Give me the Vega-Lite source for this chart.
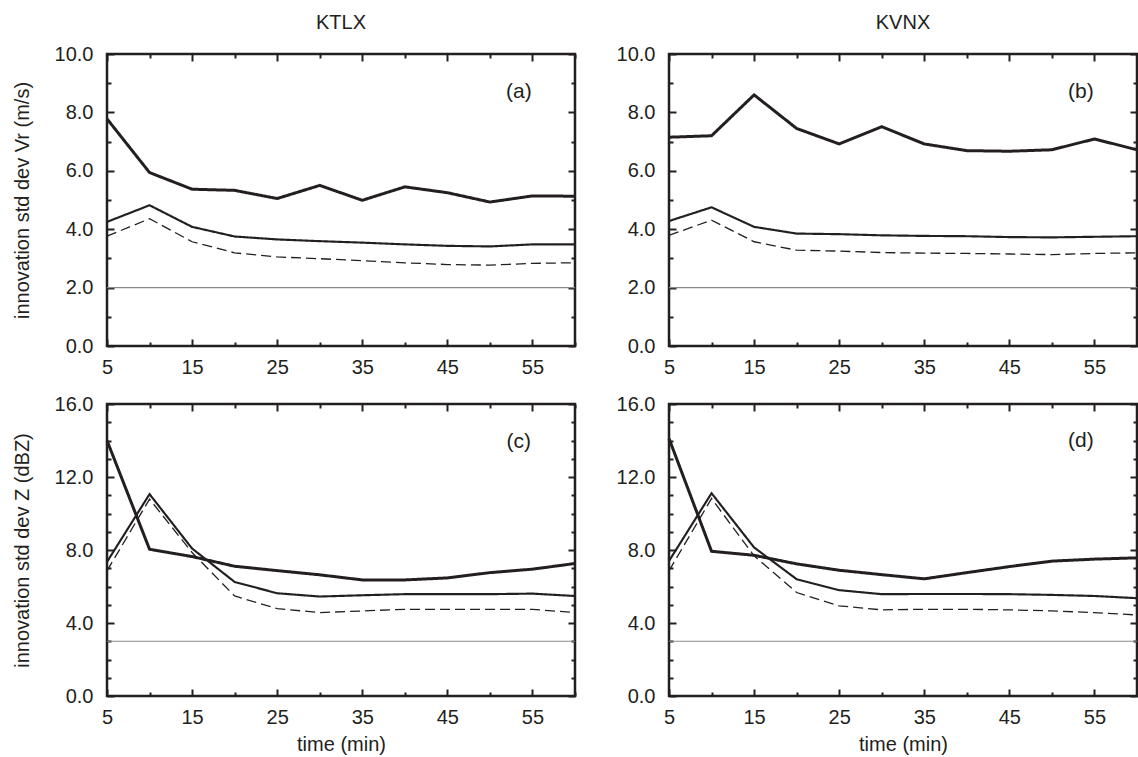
{
  "$schema": "https://vega.github.io/schema/vega-lite/v6.json",
  "padding": {"left": 10, "top": 11, "right": 0, "bottom": 2},
  "background": "white",
  "config": {
    "font": "Liberation Sans",
    "view": {"stroke": "#231f20", "strokeWidth": 2.5},
    "axis": {"labelFontSize": 20, "titleFontSize": 20, "labelColor": "#231f20", "titleColor": "#231f20", "titleFontWeight": "normal", "tickColor": "#231f20", "tickWidth": 2, "domain": false, "grid": false, "labelFlush": false, "labelFont": "Liberation Sans", "titleFont": "Liberation Sans"},
    "title": {"fontSize": 20, "fontWeight": "normal", "color": "#231f20", "font": "Liberation Sans", "offset": 11},
    "line": {"color": "#231f20"},
    "text": {"color": "#231f20", "font": "Liberation Sans", "fontSize": 21}
  },
  "datasets": {
    "vr": [
      {"radar": "KTLX", "t": 5, "innovation": 7.78, "expected": 4.25, "spread": 3.76},
      {"radar": "KTLX", "t": 10, "innovation": 5.94, "expected": 4.82, "spread": 4.36},
      {"radar": "KTLX", "t": 15, "innovation": 5.37, "expected": 4.08, "spread": 3.57},
      {"radar": "KTLX", "t": 20, "innovation": 5.33, "expected": 3.75, "spread": 3.19},
      {"radar": "KTLX", "t": 25, "innovation": 5.05, "expected": 3.65, "spread": 3.05},
      {"radar": "KTLX", "t": 30, "innovation": 5.50, "expected": 3.59, "spread": 2.99},
      {"radar": "KTLX", "t": 35, "innovation": 4.99, "expected": 3.54, "spread": 2.92},
      {"radar": "KTLX", "t": 40, "innovation": 5.45, "expected": 3.48, "spread": 2.85},
      {"radar": "KTLX", "t": 45, "innovation": 5.25, "expected": 3.43, "spread": 2.79},
      {"radar": "KTLX", "t": 50, "innovation": 4.93, "expected": 3.41, "spread": 2.77},
      {"radar": "KTLX", "t": 55, "innovation": 5.14, "expected": 3.48, "spread": 2.83},
      {"radar": "KTLX", "t": 60, "innovation": 5.13, "expected": 3.48, "spread": 2.85},
      {"radar": "KVNX", "t": 5, "innovation": 7.15, "expected": 4.28, "spread": 3.79},
      {"radar": "KVNX", "t": 10, "innovation": 7.20, "expected": 4.75, "spread": 4.31},
      {"radar": "KVNX", "t": 15, "innovation": 8.60, "expected": 4.08, "spread": 3.57},
      {"radar": "KVNX", "t": 20, "innovation": 7.45, "expected": 3.85, "spread": 3.28},
      {"radar": "KVNX", "t": 25, "innovation": 6.92, "expected": 3.83, "spread": 3.25},
      {"radar": "KVNX", "t": 30, "innovation": 7.51, "expected": 3.79, "spread": 3.20},
      {"radar": "KVNX", "t": 35, "innovation": 6.92, "expected": 3.77, "spread": 3.18},
      {"radar": "KVNX", "t": 40, "innovation": 6.69, "expected": 3.76, "spread": 3.17},
      {"radar": "KVNX", "t": 45, "innovation": 6.67, "expected": 3.73, "spread": 3.15},
      {"radar": "KVNX", "t": 50, "innovation": 6.72, "expected": 3.72, "spread": 3.13},
      {"radar": "KVNX", "t": 55, "innovation": 7.09, "expected": 3.74, "spread": 3.17},
      {"radar": "KVNX", "t": 60, "innovation": 6.72, "expected": 3.76, "spread": 3.19}
    ],
    "z": [
      {"radar": "KTLX", "t": 5, "innovation": 14.0, "expected": 7.35, "spread": 6.86},
      {"radar": "KTLX", "t": 10, "innovation": 8.04, "expected": 11.06, "spread": 10.79},
      {"radar": "KTLX", "t": 15, "innovation": 7.64, "expected": 8.08, "spread": 7.86},
      {"radar": "KTLX", "t": 20, "innovation": 7.11, "expected": 6.25, "spread": 5.48},
      {"radar": "KTLX", "t": 25, "innovation": 6.87, "expected": 5.63, "spread": 4.79},
      {"radar": "KTLX", "t": 30, "innovation": 6.64, "expected": 5.45, "spread": 4.57},
      {"radar": "KTLX", "t": 35, "innovation": 6.36, "expected": 5.52, "spread": 4.66},
      {"radar": "KTLX", "t": 40, "innovation": 6.36, "expected": 5.58, "spread": 4.75},
      {"radar": "KTLX", "t": 45, "innovation": 6.47, "expected": 5.58, "spread": 4.75},
      {"radar": "KTLX", "t": 50, "innovation": 6.76, "expected": 5.58, "spread": 4.75},
      {"radar": "KTLX", "t": 55, "innovation": 6.95, "expected": 5.61, "spread": 4.75},
      {"radar": "KTLX", "t": 60, "innovation": 7.26, "expected": 5.48, "spread": 4.57},
      {"radar": "KVNX", "t": 5, "innovation": 14.11, "expected": 7.40, "spread": 6.86},
      {"radar": "KVNX", "t": 10, "innovation": 7.93, "expected": 11.11, "spread": 10.82},
      {"radar": "KVNX", "t": 15, "innovation": 7.71, "expected": 8.14, "spread": 7.68},
      {"radar": "KVNX", "t": 20, "innovation": 7.24, "expected": 6.40, "spread": 5.67},
      {"radar": "KVNX", "t": 25, "innovation": 6.89, "expected": 5.80, "spread": 4.94},
      {"radar": "KVNX", "t": 30, "innovation": 6.65, "expected": 5.58, "spread": 4.72},
      {"radar": "KVNX", "t": 35, "innovation": 6.42, "expected": 5.59, "spread": 4.75},
      {"radar": "KVNX", "t": 40, "innovation": 6.76, "expected": 5.59, "spread": 4.75},
      {"radar": "KVNX", "t": 45, "innovation": 7.09, "expected": 5.58, "spread": 4.72},
      {"radar": "KVNX", "t": 50, "innovation": 7.39, "expected": 5.54, "spread": 4.66},
      {"radar": "KVNX", "t": 55, "innovation": 7.50, "expected": 5.48, "spread": 4.57},
      {"radar": "KVNX", "t": 60, "innovation": 7.57, "expected": 5.36, "spread": 4.44}
    ]
  },
  "vconcat": [
    {
      "hconcat": [
        {
          "width": 468, "height": 292,
          "title": {"text": "KTLX"},
          "layer": [
            {
              "data": {"name": "vr"},
              "transform": [{"filter": "datum.radar === 'KTLX'"}, {"fold": ["innovation", "expected", "spread"], "as": ["series", "value"]}],
              "mark": {"type": "line", "strokeJoin": "miter"},
              "encoding": {
                "x": {"field": "t", "type": "quantitative", "scale": {"domain": [5, 60], "nice": false},
                  "axis": {"orient": "bottom", "title": null, "values": [5, 10, 15, 20, 25, 30, 35, 40, 45, 50, 55, 60], "labelExpr": "datum.value % 10 === 5 ? datum.label : ''", "tickSize": {"condition": {"test": "datum.value % 10 === 5", "value": -7}, "value": -4}, "labelPadding": 18}},
                "y": {"field": "value", "type": "quantitative", "scale": {"domain": [0, 10], "nice": false},
                  "axis": {"orient": "left", "title": "innovation std dev Vr (m/s)", "values": [0, 1, 2, 3, 4, 5, 6, 7, 8, 9, 10], "labelExpr": "datum.value % 2 === 0 ? format(datum.value, '.1f') : ''", "tickSize": {"condition": {"test": "datum.value % 2 === 0", "value": -7}, "value": -4}, "labelPadding": 21, "titlePadding": 22}},
                "strokeWidth": {"field": "series", "type": "nominal", "scale": {"domain": ["innovation", "expected", "spread"], "range": [3, 1.3, 1.3]}, "legend": null},
                "strokeDash": {"field": "series", "type": "nominal", "scale": {"domain": ["innovation", "expected", "spread"], "range": [[1, 0], [1, 0], [10, 5]]}, "legend": null}
              }
            },
            {
              "data": {"values": [{"obs_error": 2}]},
              "mark": {"type": "rule", "color": "#8a8a8a", "strokeWidth": 1.2},
              "encoding": {"y": {"field": "obs_error", "type": "quantitative", "scale": {"domain": [0, 10], "nice": false}, "axis": null}}
            },
            {
              "data": {"values": [{"label": "(a)"}]},
              "mark": {"type": "text"},
              "encoding": {
                "text": {"field": "label"},
                "x": {"datum": 53.4, "type": "quantitative", "scale": {"domain": [5, 60], "nice": false},
                  "axis": {"orient": "top", "title": null, "labels": false, "values": [5, 10, 15, 20, 25, 30, 35, 40, 45, 50, 55, 60], "tickSize": {"condition": {"test": "datum.value % 10 === 5", "value": -7}, "value": -4}}},
                "y": {"datum": 8.7, "type": "quantitative", "scale": {"domain": [0, 10], "nice": false},
                  "axis": {"orient": "right", "title": null, "labels": false, "values": [0, 1, 2, 3, 4, 5, 6, 7, 8, 9, 10], "tickSize": {"condition": {"test": "datum.value % 2 === 0", "value": -7}, "value": -4}}}
              }
            }
          ],
          "resolve": {"axis": {"x": "independent", "y": "independent"}}
        },
        {
          "width": 468, "height": 292,
          "title": {"text": "KVNX"},
          "layer": [
            {
              "data": {"name": "vr"},
              "transform": [{"filter": "datum.radar === 'KVNX'"}, {"fold": ["innovation", "expected", "spread"], "as": ["series", "value"]}],
              "mark": {"type": "line", "strokeJoin": "miter"},
              "encoding": {
                "x": {"field": "t", "type": "quantitative", "scale": {"domain": [5, 60], "nice": false},
                  "axis": {"orient": "bottom", "title": null, "values": [5, 10, 15, 20, 25, 30, 35, 40, 45, 50, 55, 60], "labelExpr": "datum.value % 10 === 5 ? datum.label : ''", "tickSize": {"condition": {"test": "datum.value % 10 === 5", "value": -7}, "value": -4}, "labelPadding": 18}},
                "y": {"field": "value", "type": "quantitative", "scale": {"domain": [0, 10], "nice": false},
                  "axis": {"orient": "left", "title": null, "values": [0, 1, 2, 3, 4, 5, 6, 7, 8, 9, 10], "labelExpr": "datum.value % 2 === 0 ? format(datum.value, '.1f') : ''", "tickSize": {"condition": {"test": "datum.value % 2 === 0", "value": -7}, "value": -4}, "labelPadding": 21}},
                "strokeWidth": {"field": "series", "type": "nominal", "scale": {"domain": ["innovation", "expected", "spread"], "range": [3, 1.3, 1.3]}, "legend": null},
                "strokeDash": {"field": "series", "type": "nominal", "scale": {"domain": ["innovation", "expected", "spread"], "range": [[1, 0], [1, 0], [10, 5]]}, "legend": null}
              }
            },
            {
              "data": {"values": [{"obs_error": 2}]},
              "mark": {"type": "rule", "color": "#8a8a8a", "strokeWidth": 1.2},
              "encoding": {"y": {"field": "obs_error", "type": "quantitative", "scale": {"domain": [0, 10], "nice": false}, "axis": null}}
            },
            {
              "data": {"values": [{"label": "(b)"}]},
              "mark": {"type": "text"},
              "encoding": {
                "text": {"field": "label"},
                "x": {"datum": 53.4, "type": "quantitative", "scale": {"domain": [5, 60], "nice": false},
                  "axis": {"orient": "top", "title": null, "labels": false, "values": [5, 10, 15, 20, 25, 30, 35, 40, 45, 50, 55, 60], "tickSize": {"condition": {"test": "datum.value % 10 === 5", "value": -7}, "value": -4}}},
                "y": {"datum": 8.7, "type": "quantitative", "scale": {"domain": [0, 10], "nice": false},
                  "axis": {"orient": "right", "title": null, "labels": false, "values": [0, 1, 2, 3, 4, 5, 6, 7, 8, 9, 10], "tickSize": {"condition": {"test": "datum.value % 2 === 0", "value": -7}, "value": -4}}}
              }
            }
          ],
          "resolve": {"axis": {"x": "independent", "y": "independent"}}
        }
      ],
      "spacing": 31
    },
    {
      "hconcat": [
        {
          "width": 468, "height": 292,
          "layer": [
            {
              "data": {"name": "z"},
              "transform": [{"filter": "datum.radar === 'KTLX'"}, {"fold": ["innovation", "expected", "spread"], "as": ["series", "value"]}],
              "mark": {"type": "line", "strokeJoin": "miter"},
              "encoding": {
                "x": {"field": "t", "type": "quantitative", "scale": {"domain": [5, 60], "nice": false},
                  "axis": {"orient": "bottom", "title": "time (min)", "titlePadding": 7, "values": [5, 10, 15, 20, 25, 30, 35, 40, 45, 50, 55, 60], "labelExpr": "datum.value % 10 === 5 ? datum.label : ''", "tickSize": {"condition": {"test": "datum.value % 10 === 5", "value": -7}, "value": -4}, "labelPadding": 18}},
                "y": {"field": "value", "type": "quantitative", "scale": {"domain": [0, 16], "nice": false},
                  "axis": {"orient": "left", "title": "innovation std dev Z (dBZ)", "values": [0, 1, 2, 3, 4, 5, 6, 7, 8, 9, 10, 11, 12, 13, 14, 15, 16], "labelExpr": "datum.value % 4 === 0 ? format(datum.value, '.1f') : ''", "tickSize": {"condition": {"test": "datum.value % 4 === 0", "value": -7}, "value": -4}, "labelPadding": 21, "titlePadding": 22}},
                "strokeWidth": {"field": "series", "type": "nominal", "scale": {"domain": ["innovation", "expected", "spread"], "range": [3, 1.3, 1.3]}, "legend": null},
                "strokeDash": {"field": "series", "type": "nominal", "scale": {"domain": ["innovation", "expected", "spread"], "range": [[1, 0], [1, 0], [10, 5]]}, "legend": null}
              }
            },
            {
              "data": {"values": [{"obs_error": 3}]},
              "mark": {"type": "rule", "color": "#8a8a8a", "strokeWidth": 1.2},
              "encoding": {"y": {"field": "obs_error", "type": "quantitative", "scale": {"domain": [0, 16], "nice": false}, "axis": null}}
            },
            {
              "data": {"values": [{"label": "(c)"}]},
              "mark": {"type": "text"},
              "encoding": {
                "text": {"field": "label"},
                "x": {"datum": 53.4, "type": "quantitative", "scale": {"domain": [5, 60], "nice": false},
                  "axis": {"orient": "top", "title": null, "labels": false, "values": [5, 10, 15, 20, 25, 30, 35, 40, 45, 50, 55, 60], "tickSize": {"condition": {"test": "datum.value % 10 === 5", "value": -7}, "value": -4}}},
                "y": {"datum": 13.9, "type": "quantitative", "scale": {"domain": [0, 16], "nice": false},
                  "axis": {"orient": "right", "title": null, "labels": false, "values": [0, 1, 2, 3, 4, 5, 6, 7, 8, 9, 10, 11, 12, 13, 14, 15, 16], "tickSize": {"condition": {"test": "datum.value % 4 === 0", "value": -7}, "value": -4}}}
              }
            }
          ],
          "resolve": {"axis": {"x": "independent", "y": "independent"}}
        },
        {
          "width": 468, "height": 292,
          "layer": [
            {
              "data": {"name": "z"},
              "transform": [{"filter": "datum.radar === 'KVNX'"}, {"fold": ["innovation", "expected", "spread"], "as": ["series", "value"]}],
              "mark": {"type": "line", "strokeJoin": "miter"},
              "encoding": {
                "x": {"field": "t", "type": "quantitative", "scale": {"domain": [5, 60], "nice": false},
                  "axis": {"orient": "bottom", "title": "time (min)", "titlePadding": 7, "values": [5, 10, 15, 20, 25, 30, 35, 40, 45, 50, 55, 60], "labelExpr": "datum.value % 10 === 5 ? datum.label : ''", "tickSize": {"condition": {"test": "datum.value % 10 === 5", "value": -7}, "value": -4}, "labelPadding": 18}},
                "y": {"field": "value", "type": "quantitative", "scale": {"domain": [0, 16], "nice": false},
                  "axis": {"orient": "left", "title": null, "values": [0, 1, 2, 3, 4, 5, 6, 7, 8, 9, 10, 11, 12, 13, 14, 15, 16], "labelExpr": "datum.value % 4 === 0 ? format(datum.value, '.1f') : ''", "tickSize": {"condition": {"test": "datum.value % 4 === 0", "value": -7}, "value": -4}, "labelPadding": 21}},
                "strokeWidth": {"field": "series", "type": "nominal", "scale": {"domain": ["innovation", "expected", "spread"], "range": [3, 1.3, 1.3]}, "legend": null},
                "strokeDash": {"field": "series", "type": "nominal", "scale": {"domain": ["innovation", "expected", "spread"], "range": [[1, 0], [1, 0], [10, 5]]}, "legend": null}
              }
            },
            {
              "data": {"values": [{"obs_error": 3}]},
              "mark": {"type": "rule", "color": "#8a8a8a", "strokeWidth": 1.2},
              "encoding": {"y": {"field": "obs_error", "type": "quantitative", "scale": {"domain": [0, 16], "nice": false}, "axis": null}}
            },
            {
              "data": {"values": [{"label": "(d)"}]},
              "mark": {"type": "text"},
              "encoding": {
                "text": {"field": "label"},
                "x": {"datum": 53.4, "type": "quantitative", "scale": {"domain": [5, 60], "nice": false},
                  "axis": {"orient": "top", "title": null, "labels": false, "values": [5, 10, 15, 20, 25, 30, 35, 40, 45, 50, 55, 60], "tickSize": {"condition": {"test": "datum.value % 10 === 5", "value": -7}, "value": -4}}},
                "y": {"datum": 14.0, "type": "quantitative", "scale": {"domain": [0, 16], "nice": false},
                  "axis": {"orient": "right", "title": null, "labels": false, "values": [0, 1, 2, 3, 4, 5, 6, 7, 8, 9, 10, 11, 12, 13, 14, 15, 16], "tickSize": {"condition": {"test": "datum.value % 4 === 0", "value": -7}, "value": -4}}}
              }
            }
          ],
          "resolve": {"axis": {"x": "independent", "y": "independent"}}
        }
      ],
      "spacing": 31
    }
  ],
  "spacing": 13
}
